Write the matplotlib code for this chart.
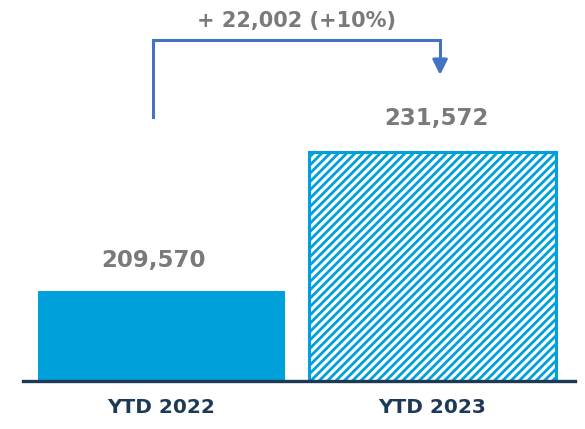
import matplotlib.pyplot as plt

# data
labels = ['YTD 2022', 'YTD 2023']
values = [209570, 231572]
change_text = '+ 22,002 (+10%)'

blue = '#00A0DA'
navy = '#1C3A56'
grey = '#7A7A7A'
arrow_blue = '#4472C4'

plt.rcParams['font.family'] = ['DejaVu Sans']
plt.rcParams['hatch.linewidth'] = 2.0
plt.rcParams['hatch.color'] = blue

fig = plt.figure(figsize=(5.85, 4.29), dpi=100)
ax = fig.add_axes([23 / 585, 48 / 429, 552 / 585, 333 / 429])

x = [0, 1]
ax.bar(x[0], values[0], width=0.91, color=blue, bottom=0)
ax.bar(x[1], values[1], width=0.91, facecolor='white', edgecolor=blue,
       linewidth=2.2, hatch='////')

# axis not starting at zero (as in the original)
ymin = 195320
ymax = ymin + 333 * 158.3
ax.set_ylim(ymin, ymax)
ax.set_xlim(-0.511, 1.526)

for s in ['top', 'right', 'left']:
    ax.spines[s].set_visible(False)
ax.spines['bottom'].set_color(navy)
ax.spines['bottom'].set_linewidth(2.4)
ax.set_yticks([])
ax.set_xticks(x)
ax.set_xticklabels(labels, fontsize=14.5, fontweight='bold', color=navy)
ax.tick_params(axis='x', length=0, pad=12)

# value labels
ax.annotate(f'{values[0]:,}', (x[0], values[0]), xytext=(-6, 22),
            textcoords='offset points', ha='center', va='center',
            fontsize=16.5, fontweight='bold', color=grey, annotation_clip=False)
ax.annotate(f'{values[1]:,}', (x[1], values[1]), xytext=(3, 24),
            textcoords='offset points', ha='center', va='center',
            fontsize=16.5, fontweight='bold', color=grey, annotation_clip=False)

# change bracket
x_left, x_right = -0.031, 1.028
y_low = values[1] + 5550
y_top = values[1] + 17750
y_tip = values[1] + 12200
ax.plot([x_left, x_left, x_right, x_right], [y_low, y_top, y_top, y_tip + 2400],
        color=arrow_blue, linewidth=2.2, solid_joinstyle='miter', clip_on=False)
ax.annotate('', xy=(x_right, y_tip), xytext=(x_right, y_tip + 2600),
            arrowprops=dict(arrowstyle='-|>,head_length=0.9,head_width=0.45',
                            color=arrow_blue, lw=2.2, shrinkA=0, shrinkB=0),
            annotation_clip=False)
ax.text(0.5, values[1] + 20700, change_text, ha='center', va='center',
        fontsize=15, fontweight='bold', color=grey, clip_on=False)

fig.savefig('out.png', dpi=100)
